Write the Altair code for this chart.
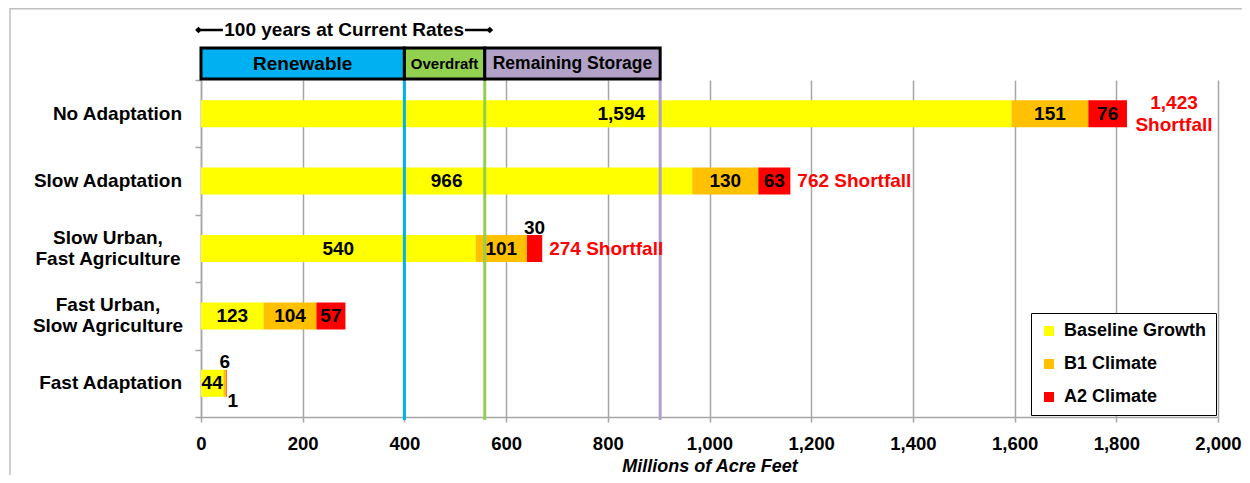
import altair as alt
import pandas as pd

# ---------------- data ----------------
categories = ["No Adaptation", "Slow Adaptation", "Slow Urban, Fast Agriculture",
              "Fast Urban, Slow Agriculture", "Fast Adaptation"]
category_labels = ["No Adaptation", "Slow Adaptation", "Slow Urban,\nFast Agriculture",
                   "Fast Urban,\nSlow Agriculture", "Fast Adaptation"]

series_names = ["Baseline Growth", "B1 Climate", "A2 Climate"]
series_colors = ["#FFFF00", "#FFC000", "#FF0000"]
baseline_growth = [1594, 966, 540, 123, 44]
b1_climate = [151, 130, 101, 104, 6]
a2_climate = [76, 63, 30, 57, 1]
shortfall = [1423, 762, 274]          # first three scenarios

supply_names = ["Renewable", "Overdraft", "Remaining Storage"]
supply_edges = [0, 400, 558, 903]
supply_colors = ["#00B0F0", "#92D050", "#B3A2C7"]
supply_line_colors = ["#00B0F0", "#92D050", "#B1A0C7"]
supply_label_sizes = [19, 15, 17.5]

arrow_label = "100 years at Current Rates"
arrow_span = [-5, 568]
arrow_text_gap = [43, 519]

x_ticks = list(range(0, 2001, 200))
x_title = "Millions of Acre Feet"

# label placement for tiny segments
label_place = {("Slow Urban, Fast Agriculture", "A2 Climate"): "above",
               ("Fast Adaptation", "B1 Climate"): "above",
               ("Fast Adaptation", "A2 Climate"): "below",
               ("No Adaptation", "Baseline Growth"): "shift"}

# ---------------- tables ----------------
rows = []
for i, cat in enumerate(categories):
    start = 0
    for j, (name, vals) in enumerate(zip(series_names, [baseline_growth, b1_climate, a2_climate])):
        v = vals[i]
        rows.append(dict(category=cat, series=name, order=j, value=v, mid=start + v / 2,
                         label=f"{v:,}", place=label_place.get((cat, name), "in")))
        start += v
bars_df = pd.DataFrame(rows)

totals = [b + o + r for b, o, r in zip(baseline_growth, b1_climate, a2_climate)]
short_df = pd.DataFrame({
    "category": categories[:len(shortfall)],
    "total": totals[:len(shortfall)],
    "text": [f"{v:,}\nShortfall" if k == 0 else f"{v:,} Shortfall" for k, v in enumerate(shortfall)],
    "multi": [k == 0 for k in range(len(shortfall))],
})

cat_df = pd.DataFrame({"category": categories, "lab": category_labels,
                       "multi": ["\n" in c for c in category_labels]})

supply_df = pd.DataFrame({
    "name": supply_names,
    "x0": supply_edges[:-1],
    "x1": supply_edges[1:],
    "mid": [(a + b) / 2 for a, b in zip(supply_edges[:-1], supply_edges[1:])],
    "fill": supply_colors,
    "line": supply_line_colors,
    "fs": supply_label_sizes,
})

arrow_seg_df = pd.DataFrame({"a": [arrow_span[0], arrow_text_gap[1]],
                             "b": [arrow_text_gap[0], arrow_span[1]]})
arrow_pt_df = pd.DataFrame({"x": arrow_span})
arrow_txt_df = pd.DataFrame({"x": [sum(arrow_span) / 2], "t": [arrow_label]})

one = pd.DataFrame({"k": [0]})

# ---------------- layout ----------------
W, H = 1017, 337
FONT = "Liberation Sans"
GRID = "#A6A6A6"

x_scale = alt.Scale(domain=[0, 2000], nice=False, zero=True)
y_scale = alt.Scale(domain=categories, paddingInner=0, paddingOuter=0)

y_axis = alt.Axis(labels=False, title=None, grid=False, domain=True, domainColor=GRID,
                  domainWidth=1.5, ticks=True, tickBand="extent", tickSize=6,
                  tickColor=GRID, tickWidth=1.5)
x_axis = alt.Axis(values=x_ticks, format=",d", grid=True, gridColor=GRID, gridWidth=1.5,
                  domainColor=GRID, domainWidth=1.5, tickColor=GRID, tickWidth=1.5,
                  tickSize=5, labelFontSize=18.5, labelFontWeight="bold", labelFlush=False,
                  labelColor="black", labelPadding=12, title=x_title,
                  titleFontSize=18, titleFontWeight="bold", titleFontStyle="italic",
                  titleColor="black", titleBaseline="alphabetic", titleY=54)


def X(field, **kw):
    return alt.X(field, scale=x_scale, axis=x_axis, **kw)


def Y():
    return alt.Y("category:N", sort=categories, scale=y_scale, axis=y_axis)


bars = alt.Chart(bars_df).mark_bar(size=27).encode(
    x=X("value:Q", stack="zero"),
    y=Y(),
    color=alt.Color("series:N", scale=alt.Scale(domain=series_names, range=series_colors),
                    legend=alt.Legend(title=None, orient="none", legendX=830, legendY=233,
                                      labelFontSize=18, labelFontWeight="bold",
                                      labelColor="black", symbolType="square",
                                      symbolSize=100, symbolStrokeWidth=0,
                                      labelOffset=6, rowPadding=15, padding=9,
                                      strokeColor="black", fillColor="white")),
    order=alt.Order("order:Q", sort="ascending"),
)

vlines = alt.Chart(supply_df).mark_rule(strokeWidth=3).encode(
    x=X("x1:Q"),
    y=alt.value(0), y2=alt.value(H + 3),
    stroke=alt.Stroke("line:N", scale=None),
)


def value_text(place, **kw):
    return alt.Chart(bars_df).transform_filter(alt.datum.place == place).mark_text(
        fontSize=19, fontWeight="bold", color="black", baseline="middle", align="center", **kw
    ).encode(x=X("mid:Q"), y=Y(), text="label:N")


vals_in = value_text("in")
vals_shift = value_text("shift", dx=15)
vals_above = value_text("above", dy=-21)
vals_below = value_text("below", dy=18, dx=6)

short_multi = alt.Chart(short_df).transform_filter(alt.datum.multi).mark_text(
    fontSize=19, fontWeight="bold", color="#FF0000", align="center", baseline="middle",
    dx=47, dy=-10.5, lineBreak="\n", lineHeight=21.5
).encode(x=X("total:Q"), y=Y(), text="text:N")

short_single = alt.Chart(short_df).transform_filter(~alt.datum.multi).mark_text(
    fontSize=19, fontWeight="bold", color="#FF0000", align="left", baseline="middle", dx=7
).encode(x=X("total:Q"), y=Y(), text="text:N")

cat_single = alt.Chart(cat_df).transform_filter(~alt.datum.multi).mark_text(
    fontSize=19, fontWeight="bold", color="black", align="right", baseline="middle"
).encode(x=alt.value(-19), y=Y(), text="lab:N")

cat_multi = alt.Chart(cat_df).transform_filter(alt.datum.multi).mark_text(
    fontSize=19, fontWeight="bold", color="black", align="center", baseline="middle",
    dy=-10.5, lineBreak="\n", lineHeight=21
).encode(x=alt.value(-93), y=Y(), text="lab:N")

# header boxes
boxes = alt.Chart(supply_df).mark_rect(stroke="black", strokeWidth=3).encode(
    x=X("x0:Q"), x2="x1:Q",
    y=alt.value(-32), y2=alt.value(-1),
    fill=alt.Fill("fill:N", scale=None),
)
box_text = alt.Chart(supply_df).mark_text(fontWeight="bold", color="black",
                                          align="center", baseline="middle").encode(
    x=X("mid:Q"), y=alt.value(-16), text="name:N",
    size=alt.Size("fs:Q", scale=None),
)

# arrow "100 years at current rates"
arrow_lines = alt.Chart(arrow_seg_df).mark_rule(strokeWidth=2.5, color="black").encode(
    x=X("a:Q"), x2="b:Q", y=alt.value(-50))
arrow_pts = alt.Chart(arrow_pt_df).mark_point(shape="diamond", filled=True, size=45,
                                              color="black", opacity=1).encode(
    x=X("x:Q"), y=alt.value(-50))
arrow_text = alt.Chart(arrow_txt_df).mark_text(fontSize=19, fontWeight="bold", color="black",
                                               align="center", baseline="middle").encode(
    x=X("x:Q"), y=alt.value(-50), text="t:N")

# outer frame
frame_v = alt.Chart(one).mark_rule(color="#BFBFBF", strokeWidth=1.5).encode(
    x=alt.value(-191), y=alt.value(-72), y2=alt.value(H + 60))
frame_h = alt.Chart(one).mark_rule(color="#BFBFBF", strokeWidth=1.5).encode(
    x=alt.value(-191), x2=alt.value(W + 30), y=alt.value(-71.2))

chart = alt.layer(
    bars, frame_v, frame_h, vlines, vals_in, vals_shift, vals_above, vals_below,
    short_multi, short_single, cat_single, cat_multi, boxes, box_text,
    arrow_lines, arrow_pts, arrow_text,
).properties(
    width=W, height=H,
    autosize=alt.AutoSizeParams(type="none"),
    padding={"left": 193, "top": 72, "right": 24, "bottom": 58},
).configure(font=FONT).configure_view(stroke=None)

chart.save("out.html", embed_options={"renderer": "svg", "actions": False})
